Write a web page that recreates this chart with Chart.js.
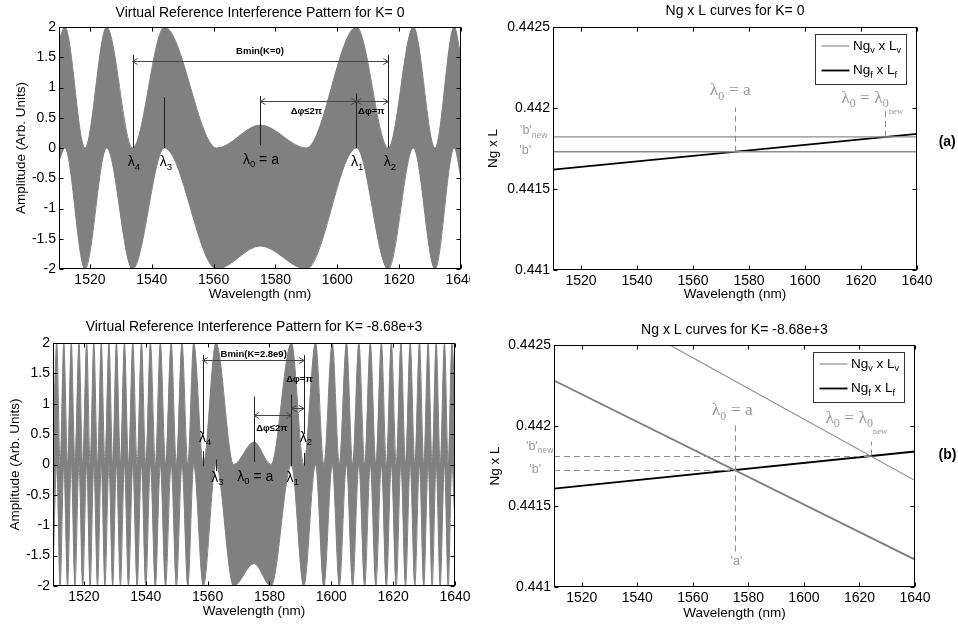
<!DOCTYPE html>
<html>
<head>
<meta charset="utf-8">
<script src="https://cdn.jsdelivr.net/npm/chart.js@4.4.1/dist/chart.umd.min.js"></script>
<style>
  body { margin: 0; background: #fff; }
  #page { position: relative; width: 958px; height: 626px; overflow: hidden; }
  canvas { position: absolute; }
</style>
</head>
<body>
<div id="page">
  <canvas id="patternK0" width="470" height="310" style="left:0;top:0"></canvas>
  <canvas id="curvesK0" width="488" height="310" style="left:470px;top:0"></canvas>
  <canvas id="patternK" width="470" height="316" style="left:0;top:310px"></canvas>
  <canvas id="curvesK" width="488" height="316" style="left:470px;top:310px"></canvas>
</div>
<script>
const SANS = "'Liberation Sans', Arial, sans-serif";
const SERIF = "'Liberation Serif', 'Times New Roman', serif";

const xTicks = [1520, 1540, 1560, 1580, 1600, 1620, 1640];
const xTickLabels = ["1520", "1540", "1560", "1580", "1600", "1620", "1640"];
const ampTicks = [-2, -1.5, -1, -0.5, 0, 0.5, 1, 1.5, 2];
const ampTickLabels = ["-2", "-1.5", "-1", "-0.5", "0", "0.5", "1", "1.5", "2"];
const ngTicks = [0.441, 0.4415, 0.442, 0.4425];
const ngTickLabels = ["0.441", "0.4415", "0.442", "0.4425"];

// K = 0 fringe band: turning points of the upper / lower envelope
const k0Wavelength = [1510, 1511.9, 1518.4, 1525.4, 1533.8, 1544.1, 1561, 1575.1, 1590, 1606.2, 1616.5, 1624.6, 1631.6, 1637.8, 1640];
const k0Upper = [1.78, 2, 0, 2, 0, 2, 0, 0.38, 0, 2, 0, 2, 0, 2, 1.5];
const k0Lower = [-0.22, 0, -2, 0, -2, 0, -2, -1.62, -2, 0, -2, 0, -2, 0, -0.5];

// K = -8.68e+3 fringe band (chirped around 1575 nm)
const kWavelength = [
  1510, 1511.2, 1512.3, 1513.5, 1514.7, 1515.9, 1517.1, 1518.4, 1519.6, 1520.9,
  1522.0, 1523.2, 1524.4, 1525.6, 1526.8, 1528.1, 1529.3, 1530.5, 1531.8, 1533.1,
  1534.4, 1535.8, 1537.2, 1538.6, 1540.0, 1541.5, 1543.1, 1544.7, 1546.4, 1548.2,
  1549.9, 1551.7, 1553.6, 1555.5, 1558.6, 1562.7, 1568.4, 1575.0, 1580.5, 1587.1,
  1591.1, 1594.9, 1597.6, 1600.3, 1602.6, 1604.9, 1606.9, 1608.9, 1610.8, 1612.6,
  1614.4, 1616.2, 1617.8, 1619.4, 1621.0, 1622.5, 1624.0, 1625.5, 1627.0, 1628.5,
  1629.9, 1631.3, 1632.6, 1633.9, 1635.2, 1636.6, 1637.8, 1639.0, 1640
];
const kUpper = [
  0.2, 2, 0, 2, 0, 2, 0, 2, 0, 2,
  0, 2, 0, 2, 0, 2, 0, 2, 0, 2,
  0, 2, 0, 2, 0, 2, 0, 2, 0, 2,
  0, 2, 0, 2, 0, 2, 0, 0.37, 0, 2,
  0, 2, 0, 2, 0, 2, 0, 2, 0, 2,
  0, 2, 0, 2, 0, 2, 0, 2, 0, 2,
  0, 2, 0, 2, 0, 2, 0, 2, 1
];
const kLower = [
  -1.8, 0, -2, 0, -2, 0, -2, 0, -2, 0,
  -2, 0, -2, 0, -2, 0, -2, 0, -2, 0,
  -2, 0, -2, 0, -2, 0, -2, 0, -2, 0,
  -2, 0, -2, 0, -2, 0, -2, -1.63, -2, 0,
  -2, 0, -2, 0, -2, 0, -2, 0, -2, 0,
  -2, 0, -2, 0, -2, 0, -2, 0, -2, 0,
  -2, 0, -2, 0, -2, 0, -2, 0, -1
];

// Ng x L curves
const wlEnds = [1510, 1640];
const ngFiberK0 = [0.44162, 0.44184];
const ngVirtualK0 = [0.44173, 0.44173];
const ngVirtualK0New = [0.441822, 0.441822];
const ngFiberK = [0.44161, 0.44184];
const ngVirtualK = [0.44228, 0.44117];
const ngVirtualKNewWl = [1551.7, 1640];
const ngVirtualKNew = [0.4425, 0.44166];
const bLevelK = 0.441725;
const bNewLevelK = 0.441815;

Chart.defaults.font.family = SANS;
Chart.defaults.font.size = 14;
Chart.defaults.color = "#000";

const LEVEL_SCALE = [1, 0.68, 0.5];
const LEVEL_DROP = [0, 0.34, 0.75];

function drawRich(ctx, parts, x, y, font, color, align) {
  const fonts = parts.map(([, lv]) => `${font.weight || "normal"} ${font.size * LEVEL_SCALE[lv]}px ${font.family || SANS}`);
  const widths = parts.map(([t], i) => { ctx.font = fonts[i]; return ctx.measureText(t).width; });
  const total = widths.reduce((a, b) => a + b, 0);
  let cx = align === "left" ? x : align === "right" ? x - total : x - total / 2;
  ctx.fillStyle = color || "#000";
  ctx.textAlign = "left";
  ctx.textBaseline = "middle";
  parts.forEach(([t, lv], i) => {
    ctx.font = fonts[i];
    ctx.fillText(t, cx, y + font.size * LEVEL_DROP[lv]);
    cx += widths[i];
  });
}

const notesPlugin = {
  id: "notes",
  afterDatasetsDraw(chart, args, opts) {
    const { ctx, chartArea: area, scales: { x, y } } = chart;
    ctx.save();
    (opts.items || []).forEach(n => {
      ctx.strokeStyle = n.color || "#222";
      ctx.lineWidth = n.width || 1;
      ctx.setLineDash(n.dash || []);
      if (n.kind === "vline") {
        const px = Math.round(x.getPixelForValue(n.x)) + 0.5;
        ctx.beginPath();
        ctx.moveTo(px, y.getPixelForValue(n.y[0]));
        ctx.lineTo(px, y.getPixelForValue(n.y[1]));
        ctx.stroke();
      } else if (n.kind === "hline") {
        const py = Math.round(y.getPixelForValue(n.y)) + 0.5;
        ctx.beginPath();
        ctx.moveTo(x.getPixelForValue(n.x[0]), py);
        ctx.lineTo(x.getPixelForValue(n.x[1]), py);
        ctx.stroke();
      } else if (n.kind === "arrow") {
        const py = Math.round(y.getPixelForValue(n.y)) + 0.5;
        const x1 = x.getPixelForValue(n.x[0]);
        const x2 = x.getPixelForValue(n.x[1]);
        ctx.beginPath();
        ctx.moveTo(x1, py); ctx.lineTo(x2, py);
        ctx.moveTo(x1 + 5, py - 3); ctx.lineTo(x1, py); ctx.lineTo(x1 + 5, py + 3);
        ctx.moveTo(x2 - 5, py - 3); ctx.lineTo(x2, py); ctx.lineTo(x2 - 5, py + 3);
        ctx.stroke();
      } else if (n.kind === "text") {
        const px = n.px !== undefined ? area.left + n.px : x.getPixelForValue(n.x);
        const py = n.py !== undefined ? n.py : y.getPixelForValue(n.y);
        drawRich(ctx, n.parts, px, py, n.font, n.color, n.align);
      }
    });
    ctx.restore();
  }
};

const framePlugin = {
  id: "frame",
  afterDatasetsDraw(chart) {
    const { ctx, chartArea: a, scales: { x, y } } = chart;
    const L = Math.round(a.left) + 0.5, R = Math.round(a.right) - 0.5;
    const T = Math.round(a.top) + 0.5, B = Math.round(a.bottom) - 0.5;
    ctx.save();
    ctx.strokeStyle = "#000";
    ctx.lineWidth = 1;
    ctx.strokeRect(L, T, R - L, B - T);
    ctx.beginPath();
    x.ticks.forEach(t => {
      const px = Math.round(x.getPixelForValue(t.value)) + 0.5;
      ctx.moveTo(px, B); ctx.lineTo(px, B - 4);
      ctx.moveTo(px, T); ctx.lineTo(px, T + 4);
    });
    y.ticks.forEach(t => {
      const py = Math.round(y.getPixelForValue(t.value)) + 0.5;
      ctx.moveTo(L, py); ctx.lineTo(L + 4, py);
      ctx.moveTo(R, py); ctx.lineTo(R - 4, py);
    });
    ctx.stroke();
    ctx.restore();
  }
};

const keyPlugin = {
  id: "keyBox",
  afterDraw(chart, args, opts) {
    const entries = opts.entries || [];
    if (!entries.length) return;
    const { ctx, chartArea: a } = chart;
    const x0 = Math.round(a.right - 102) + 0.5, y0 = Math.round(a.top + 7) + 0.5;
    ctx.save();
    ctx.fillStyle = "#fff";
    ctx.strokeStyle = "#333";
    ctx.lineWidth = 1;
    ctx.fillRect(x0, y0, 91, 50);
    ctx.strokeRect(x0, y0, 91, 50);
    entries.forEach((e, i) => {
      const ry = y0 + 11.5 + i * 24.5;
      ctx.strokeStyle = e.color;
      ctx.lineWidth = e.width;
      ctx.beginPath();
      ctx.moveTo(x0 + 6, ry); ctx.lineTo(x0 + 34, ry);
      ctx.stroke();
      drawRich(ctx, e.parts, x0 + 37.5, ry, { size: 13.5 }, "#000", "left");
    });
    if (opts.tag) drawRich(ctx, [[opts.tag.text, 0]], opts.tag.x, opts.tag.y, { size: 14, weight: "bold" }, "#000", "center");
    ctx.restore();
  }
};

function axisScales(o) {
  return {
    x: {
      type: "linear",
      min: 1510,
      max: 1640,
      grid: { display: false, drawTicks: false },
      border: { display: false },
      ticks: { padding: 3, autoSkip: false, maxRotation: 0, minRotation: 0, callback: (v, i) => xTickLabels[i] },
      afterBuildTicks: s => { s.ticks = xTicks.map(value => ({ value })); },
      afterFit: s => { s.height = o.xHeight; s.paddingLeft = 0; s.paddingRight = 0; },
      title: { display: true, text: "Wavelength (nm)", font: { size: 13.5 }, padding: { top: 0, bottom: o.xTitlePad } }
    },
    y: {
      type: "linear",
      min: o.yTicks[0],
      max: o.yTicks[o.yTicks.length - 1],
      grid: { display: false, drawTicks: false },
      border: { display: false },
      ticks: { padding: 3, autoSkip: false, callback: (v, i) => o.yLabels[i] },
      afterBuildTicks: s => { s.ticks = o.yTicks.map(value => ({ value })); },
      afterFit: s => { s.width = o.yWidth; s.paddingTop = 0; s.paddingBottom = 0; },
      title: { display: true, text: o.yTitle, font: { size: 13.5 }, padding: { top: o.yTitlePad, bottom: 0 } }
    }
  };
}

function bandDatasets(xs, upper, lower) {
  const style = { borderColor: "#808080", borderWidth: 1, pointRadius: 0, cubicInterpolationMode: "monotone" };
  return [
    { ...style, data: xs.map((x, i) => ({ x, y: upper[i] })), fill: "+1", backgroundColor: "#808080" },
    { ...style, data: xs.map((x, i) => ({ x, y: lower[i] })), fill: false }
  ];
}

function lineDataset(xs, ys, color, width) {
  return { data: xs.map((x, i) => ({ x, y: ys[i] })), borderColor: color, borderWidth: width, pointRadius: 0, fill: false };
}

function makeChart(id, o) {
  return new Chart(document.getElementById(id), {
    type: "line",
    data: { datasets: o.datasets },
    options: {
      responsive: false,
      animation: false,
      events: [],
      layout: { padding: { left: 0, top: 0, bottom: 0, right: o.padRight } },
      scales: axisScales(o),
      plugins: {
        legend: { display: false },
        tooltip: { enabled: false },
        title: { display: true, text: o.title, fullSize: false, font: { size: 14, weight: "normal" }, color: "#000", padding: o.titlePad },
        notes: { items: o.notes || [] },
        keyBox: { entries: o.key || [], tag: o.tag }
      }
    },
    plugins: [notesPlugin, framePlugin, keyPlugin]
  });
}

const markFont = { size: 14 };
const smallBold = { size: 9.5, weight: "bold" };
const curveFont = { size: 17.5, family: SERIF };
const quoteFont = { size: 12.5 };
const lam = n => [["λ", 0], [String(n), 1]];

const ngKey = [
  { color: "#8c8c8c", width: 1.2, parts: [["Ng", 0], ["v", 1], [" x L", 0], ["v", 1]] },
  { color: "#000", width: 1.8, parts: [["Ng", 0], ["f", 1], [" x L", 0], ["f", 1]] }
];

makeChart("patternK0", {
  title: "Virtual Reference Interference Pattern for K= 0",
  titlePad: { top: 4.8, bottom: 5.4 },
  padRight: 9,
  yTicks: ampTicks, yLabels: ampTickLabels, yTitle: "Amplitude (Arb. Units)",
  yWidth: 59, yTitlePad: 13.6, xHeight: 41, xTitlePad: 7.2,
  datasets: bandDatasets(k0Wavelength, k0Upper, k0Lower),
  notes: [
    { kind: "vline", x: 1533.8, y: [0, 1.54] },
    { kind: "vline", x: 1616.5, y: [0, 1.54] },
    { kind: "vline", x: 1544.1, y: [0, 0.84] },
    { kind: "vline", x: 1575.1, y: [0.05, 0.86] },
    { kind: "vline", x: 1606.2, y: [0, 0.9] },
    { kind: "arrow", y: 1.434, x: [1533.8, 1616.5], color: "#444" },
    { kind: "arrow", y: 0.78, x: [1575.1, 1606.2], color: "#444" },
    { kind: "arrow", y: 0.78, x: [1606.2, 1616.5], color: "#444" },
    { kind: "text", x: 1575, y: 1.59, parts: [["Bmin(K=0)", 0]], font: smallBold },
    { kind: "text", x: 1590, y: 0.61, parts: [["Δφ≤2π", 0]], font: smallBold },
    { kind: "text", x: 1611, y: 0.61, parts: [["Δφ=π", 0]], font: smallBold },
    { kind: "text", x: 1534.2, y: -0.24, parts: lam(4), font: markFont },
    { kind: "text", x: 1544.6, y: -0.24, parts: lam(3), font: markFont },
    { kind: "text", x: 1575.3, y: -0.2, parts: [...lam(0), [" = a", 0]], font: markFont },
    { kind: "text", x: 1606.4, y: -0.24, parts: lam(1), font: markFont },
    { kind: "text", x: 1617, y: -0.24, parts: lam(2), font: markFont }
  ]
});

makeChart("curvesK0", {
  title: "Ng x L curves for K= 0",
  titlePad: { top: 2.5, bottom: 7.7 },
  padRight: 41,
  yTicks: ngTicks, yLabels: ngTickLabels, yTitle: "Ng x L",
  yWidth: 83, yTitlePad: 15.2, xHeight: 40, xTitlePad: 7.2,
  datasets: [
    lineDataset(wlEnds, ngVirtualK0, "#8c8c8c", 1.3),
    lineDataset(wlEnds, ngVirtualK0New, "#8c8c8c", 1.3),
    lineDataset(wlEnds, ngFiberK0, "#000", 1.8)
  ],
  notes: [
    { kind: "vline", x: 1575, y: [ngVirtualK0[0], 0.442003], color: "#8c8c8c", dash: [6, 4] },
    { kind: "vline", x: 1628.5, y: [ngVirtualK0New[0], 0.442003], color: "#8c8c8c", dash: [6, 4] },
    { kind: "text", x: 1573.3, y: 0.442107, parts: [...lam(0), [" = a", 0]], font: curveFont, color: "#999" },
    { kind: "text", x: 1624, y: 0.44206, parts: [...lam(0), [" = ", 0], ["λ", 0], ["0", 1], ["new", 2]], font: curveFont, color: "#999" },
    { kind: "text", px: -33, y: 0.441858, parts: [["'b'", 0], ["new", 1]], font: quoteFont, color: "#999", align: "left" },
    { kind: "text", px: -33.7, y: 0.441737, parts: [["'b'", 0]], font: quoteFont, color: "#999", align: "left" }
  ],
  key: ngKey,
  tag: { text: "(a)", x: 477.2, y: 141.7 }
});

makeChart("patternK", {
  title: "Virtual Reference Interference Pattern for K= -8.68e+3",
  titlePad: { top: 8.5, bottom: 7.7 },
  padRight: 15,
  yTicks: ampTicks, yLabels: ampTickLabels, yTitle: "Amplitude (Arb. Units)",
  yWidth: 53, yTitlePad: 6.9, xHeight: 40, xTitlePad: 6.2,
  datasets: bandDatasets(kWavelength, kUpper, kLower),
  notes: [
    { kind: "vline", x: 1558.4, y: [0.5, 1.8] },
    { kind: "vline", x: 1558.4, y: [-0.03, 0.22] },
    { kind: "vline", x: 1591.2, y: [0.5, 1.8] },
    { kind: "vline", x: 1591.2, y: [-0.02, 0.19] },
    { kind: "vline", x: 1562.7, y: [-0.11, 0.08] },
    { kind: "vline", x: 1575, y: [0.04, 1.12] },
    { kind: "vline", x: 1587.1, y: [-0.03, 1.15] },
    { kind: "arrow", y: 1.725, x: [1558.4, 1591.2], color: "#444" },
    { kind: "arrow", y: 0.81, x: [1575, 1587.1], color: "#444" },
    { kind: "arrow", y: 0.935, x: [1587.1, 1591.2], color: "#444" },
    { kind: "text", x: 1574.9, y: 1.82, parts: [["Bmin(K=2.8e9)", 0]], font: smallBold },
    { kind: "text", x: 1580.8, y: 0.6, parts: [["Δφ≤2π", 0]], font: smallBold },
    { kind: "text", x: 1589.7, y: 1.4, parts: [["Δφ=π", 0]], font: smallBold },
    { kind: "text", x: 1559.2, y: 0.44, parts: lam(4), font: markFont },
    { kind: "text", x: 1591.8, y: 0.44, parts: lam(2), font: markFont },
    { kind: "text", x: 1563.2, y: -0.22, parts: lam(3), font: markFont },
    { kind: "text", x: 1575.4, y: -0.2, parts: [...lam(0), [" = a", 0]], font: markFont },
    { kind: "text", x: 1587.5, y: -0.22, parts: lam(1), font: markFont }
  ]
});

makeChart("curvesK", {
  title: "Ng x L curves for K= -8.68e+3",
  titlePad: { top: 11.8, bottom: 6.4 },
  padRight: 43,
  yTicks: ngTicks, yLabels: ngTickLabels, yTitle: "Ng x L",
  yWidth: 84, yTitlePad: 16.9, xHeight: 39, xTitlePad: 4.5,
  datasets: [
    lineDataset(wlEnds, ngVirtualK, "#7f7f7f", 1.8),
    lineDataset(ngVirtualKNewWl, ngVirtualKNew, "#8c8c8c", 1.1),
    lineDataset(wlEnds, ngFiberK, "#000", 1.8)
  ],
  notes: [
    { kind: "hline", y: bNewLevelK, x: [1510, 1624], color: "#8c8c8c", dash: [6, 4] },
    { kind: "hline", y: bLevelK, x: [1510, 1575], color: "#8c8c8c", dash: [6, 4] },
    { kind: "vline", x: 1575, y: [0.44122, 0.442005], color: "#8c8c8c", dash: [6, 4] },
    { kind: "vline", x: 1624, y: [bNewLevelK, 0.441901], color: "#8c8c8c", dash: [6, 4] },
    { kind: "text", x: 1574.2, y: 0.442093, parts: [...lam(0), [" = a", 0]], font: curveFont, color: "#999" },
    { kind: "text", x: 1618.9, y: 0.442046, parts: [...lam(0), [" = ", 0], ["λ", 0], ["0", 1], ["new", 2]], font: curveFont, color: "#999" },
    { kind: "text", x: 1575.7, y: 0.441158, parts: [["'a'", 0]], font: quoteFont, color: "#999" },
    { kind: "text", px: -28, y: 0.44187, parts: [["'b'", 0], ["new", 1]], font: quoteFont, color: "#999", align: "left" },
    { kind: "text", px: -24.7, y: 0.44173, parts: [["'b'", 0]], font: quoteFont, color: "#999", align: "left" }
  ],
  key: ngKey,
  tag: { text: "(b)", x: 477.5, y: 145 }
});
</script>
</body>
</html>
